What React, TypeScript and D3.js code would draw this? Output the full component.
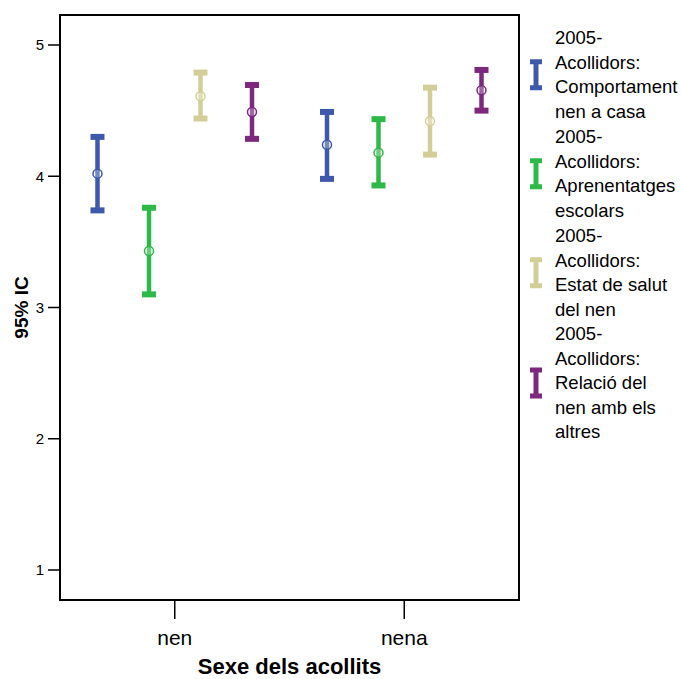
import React from "react";
import * as d3 from "d3";

const categories = ["nen", "nena"];
const seriesKeys = ["comportament", "aprenentatges", "salut", "relacio"];
const seriesLegend = [
  ["2005-", "Acollidors:", "Comportament", "nen a casa"],
  ["2005-", "Acollidors:", "Aprenentatges", "escolars"],
  ["2005-", "Acollidors:", "Estat de salut", "del nen"],
  ["2005-", "Acollidors:", "Relació del", "nen amb els", "altres"],
];
const seriesColors = ["#3E58AC", "#2EB848", "#D3CE97", "#7C287D"];
// values per series, [nen, nena]
const meanValues = [
  [4.02, 4.24],
  [3.43, 4.18],
  [4.61, 4.42],
  [4.49, 4.655],
];
const lowerValues = [
  [3.74, 3.98],
  [3.1, 3.93],
  [4.44, 4.165],
  [4.285, 4.5],
];
const upperValues = [
  [4.3, 4.49],
  [3.76, 4.435],
  [4.79, 4.675],
  [4.695, 4.81],
];
const yTicks = [1, 2, 3, 4, 5];

const W = 681;
const H = 679;
const plot = { left: 60, right: 519, top: 15, bottom: 600 };
const FONT = "'Liberation Sans', Arial, Helvetica, sans-serif";

export default function App() {
  const y = d3
    .scaleLinear()
    .domain([1, 5])
    .range([570, 45]);
  const x = d3
    .scaleBand<string>()
    .domain(categories)
    .range([plot.left, plot.right])
    .padding(0);
  const xInner = d3
    .scaleBand<string>()
    .domain(seriesKeys)
    .range([-103, 103])
    .padding(0);

  const capW = 14;

  const legendX = 536;
  const legendTextX = 555;
  const lineH = 24.5;
  const groupStarts = [44, 143, 242, 340];

  return (
    <svg
      width={W}
      height={H}
      style={{ position: "absolute", left: 0, top: 0, background: "#fff" }}
      fontFamily={FONT}
    >
      <rect x={0} y={0} width={W} height={H} fill="#fff" />
      {/* frame */}
      <rect
        x={plot.left}
        y={plot.top}
        width={plot.right - plot.left}
        height={plot.bottom - plot.top}
        fill="none"
        stroke="#000"
        strokeWidth={2}
      />
      {/* y ticks */}
      {yTicks.map((t) => (
        <g key={t}>
          <line x1={48} x2={plot.left} y1={y(t)} y2={y(t)} stroke="#000" strokeWidth={1.5} />
          <text x={44} y={y(t)} dy="0.35em" textAnchor="end" fontSize={15} fill="#000">
            {t}
          </text>
        </g>
      ))}
      {/* x ticks */}
      {categories.map((c) => {
        const cx = (x(c) as number) + x.bandwidth() / 2;
        return (
          <g key={c}>
            <line x1={cx} x2={cx} y1={plot.bottom} y2={619} stroke="#000" strokeWidth={1.5} />
            <text x={cx} y={645} textAnchor="middle" fontSize={21} fill="#000">
              {c}
            </text>
          </g>
        );
      })}
      {/* axis titles */}
      <text
        x={(plot.left + plot.right) / 2}
        y={674}
        textAnchor="middle"
        fontSize={22}
        fontWeight="bold"
        fill="#000"
      >
        Sexe dels acollits
      </text>
      <text
        transform={`translate(28, ${(plot.top + plot.bottom) / 2}) rotate(-90)`}
        textAnchor="middle"
        fontSize={19}
        fontWeight="bold"
        fill="#000"
      >
        95% IC
      </text>
      {/* error bars */}
      {seriesKeys.map((s, si) =>
        categories.map((c, ci) => {
          const cx =
            (x(c) as number) + x.bandwidth() / 2 + (xInner(s) as number) + xInner.bandwidth() / 2;
          const col = seriesColors[si];
          const yl = y(lowerValues[si][ci]);
          const yu = y(upperValues[si][ci]);
          const ym = y(meanValues[si][ci]);
          return (
            <g key={s + c}>
              <line x1={cx} x2={cx} y1={yu} y2={yl} stroke={col} strokeWidth={4.5} />
              <line x1={cx - capW / 2} x2={cx + capW / 2} y1={yu} y2={yu} stroke={col} strokeWidth={6} />
              <line x1={cx - capW / 2} x2={cx + capW / 2} y1={yl} y2={yl} stroke={col} strokeWidth={6} />
              <circle cx={cx} cy={ym} r={4.5} fill="#fff" fillOpacity={0.3} stroke={col} strokeWidth={1.5} />
            </g>
          );
        })
      )}
      {/* legend */}
      {seriesLegend.map((lines, gi) => {
        const start = groupStarts[gi];
        const mid = start - 6 + ((lines.length - 1) * lineH) / 2;
        const col = seriesColors[gi];
        const top = mid - 13;
        const bot = mid + 13;
        return (
          <g key={gi}>
            <line x1={legendX} x2={legendX} y1={top} y2={bot} stroke={col} strokeWidth={5} />
            <line x1={legendX - 6} x2={legendX + 6} y1={top} y2={top} stroke={col} strokeWidth={5} />
            <line x1={legendX - 6} x2={legendX + 6} y1={bot} y2={bot} stroke={col} strokeWidth={5} />
            {lines.map((l, li) => (
              <text key={li} x={legendTextX} y={start + li * lineH} fontSize={18.5} fill="#000">
                {l}
              </text>
            ))}
          </g>
        );
      })}
    </svg>
  );
}
